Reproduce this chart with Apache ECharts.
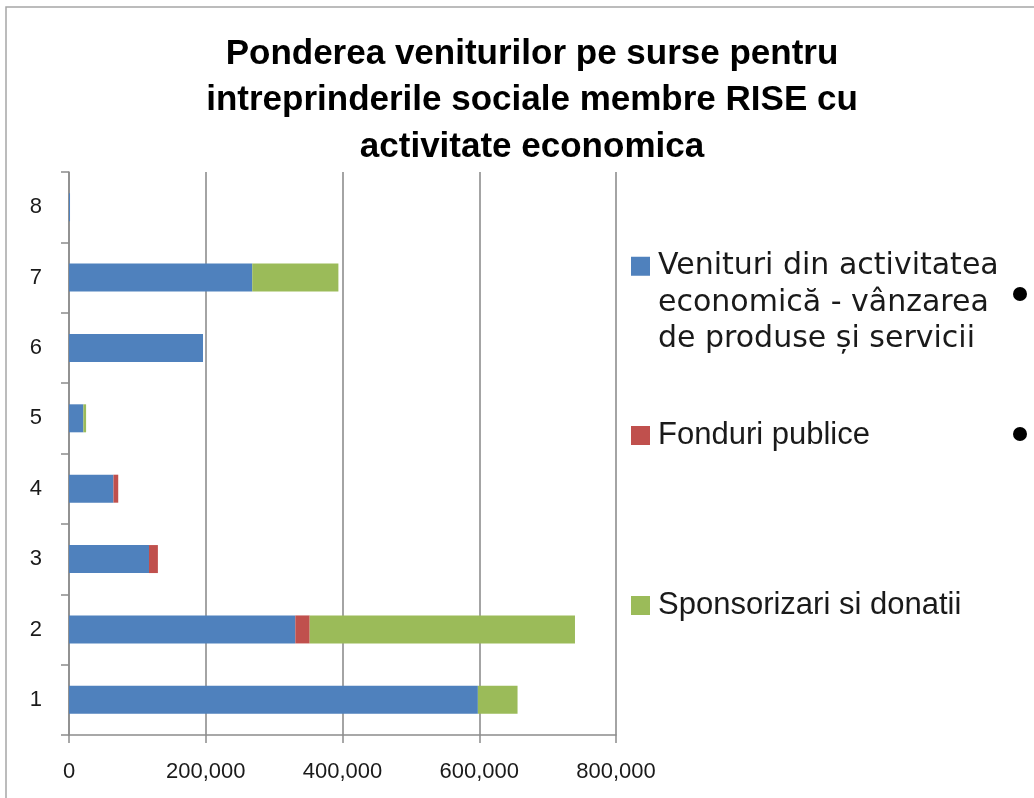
<!DOCTYPE html>
<html>
<head>
<meta charset="utf-8">
<script src="https://cdn.jsdelivr.net/npm/echarts@6/dist/echarts.min.js"></script>
<style>
  html, body { margin: 0; padding: 0; background: #fff; }
  #chart { width: 1034px; height: 798px; }
</style>
</head>
<body>
<div id="chart"></div>
<script>
const categories = ['1', '2', '3', '4', '5', '6', '7', '8'];
const venituri = [598000, 331000, 117000, 65000, 21000, 196000, 268000, 1500];
const fonduri = [0, 21000, 13000, 7000, 0, 0, 0, 0];
const sponsorizari = [58000, 388000, 0, 0, 4000, 0, 126000, 0];
const xTicks = [0, 200000, 400000, 600000, 800000];

const names = [
  'Venituri din activitatea\neconomică - vânzarea\nde produse și servicii',
  'Fonduri publice',
  'Sponsorizari si donatii'
];
const colors = ['#4F81BD', '#C0504D', '#9BBB59'];
const sans = '"Liberation Sans", Arial, sans-serif';

const chartDom = document.getElementById('chart');
const myChart = echarts.init(chartDom);

function legendAt(name, top, style, fmt) {
  return {
    data: [name],
    orient: 'vertical',
    left: 631,
    top: top,
    padding: 0,
    itemWidth: 19,
    itemHeight: 19,
    icon: 'rect',
    selectedMode: false,
    formatter: fmt,
    textStyle: style
  };
}

let option = {
  animation: false,
  color: colors,
  title: {
    text: 'Ponderea veniturilor pe surse pentru\nintreprinderile sociale membre RISE cu\nactivitate economica',
    left: 527,
    top: 26,
    textAlign: 'center',
    textStyle: {
      fontFamily: sans,
      fontWeight: 'bold',
      fontSize: 35,
      lineHeight: 46.5,
      color: '#000'
    }
  },
  legend: [
    // two blank lines in front so that the icon sits beside the first line
    legendAt(names[0], 175, {
      fontFamily: '"DejaVu Sans", sans-serif',
      fontSize: 30,
      lineHeight: 36.5,
      color: '#1a1a1a',
      padding: [0, 0, 0, 3]
    }, (n) => '\n\n' + n),
    legendAt(names[1], 420, {
      fontFamily: sans, fontSize: 31, lineHeight: 30, color: '#1a1a1a', padding: [0, 0, 0, 3]
    }),
    legendAt(names[2], 590, {
      fontFamily: sans, fontSize: 31, lineHeight: 30, color: '#1a1a1a', padding: [0, 0, 0, 3]
    })
  ],
  grid: { left: 69, top: 172, width: 547, height: 563 },
  xAxis: {
    type: 'value',
    min: xTicks[0],
    max: xTicks[xTicks.length - 1],
    interval: 200000,
    axisLine: { show: true, lineStyle: { color: '#8c8c8c', width: 1.5 } },
    axisTick: { show: true, length: 8, lineStyle: { color: '#8c8c8c', width: 1.5 } },
    splitLine: { show: true, lineStyle: { color: '#868686', width: 1.5 } },
    axisLabel: {
      margin: 26,
      fontFamily: sans,
      fontSize: 22,
      color: '#1a1a1a',
      formatter: (v) => v.toLocaleString('en-US')
    }
  },
  yAxis: {
    type: 'category',
    data: categories,
    axisLine: { show: true, lineStyle: { color: '#8c8c8c', width: 1.5 } },
    axisTick: { show: true, length: 8, lineStyle: { color: '#8c8c8c', width: 1.5 } },
    axisLabel: { margin: 27, fontFamily: sans, fontSize: 22, color: '#1a1a1a' }
  },
  series: [
    { name: names[0], type: 'bar', stack: 'total', data: venituri, barWidth: 28 },
    { name: names[1], type: 'bar', stack: 'total', data: fonduri, barWidth: 28 },
    { name: names[2], type: 'bar', stack: 'total', data: sponsorizari, barWidth: 28 }
  ],
  graphic: [
    {
      type: 'rect',
      shape: { x: 6, y: 7, width: 1200, height: 1000 },
      style: { fill: 'none', stroke: '#a6a6a6', lineWidth: 1.5 },
      silent: true
    },
    { type: 'circle', shape: { cx: 1020, cy: 294, r: 7 }, style: { fill: '#000' } },
    { type: 'circle', shape: { cx: 1020, cy: 434, r: 7 }, style: { fill: '#000' } }
  ]
};

option && myChart.setOption(option);
</script>
</body>
</html>
